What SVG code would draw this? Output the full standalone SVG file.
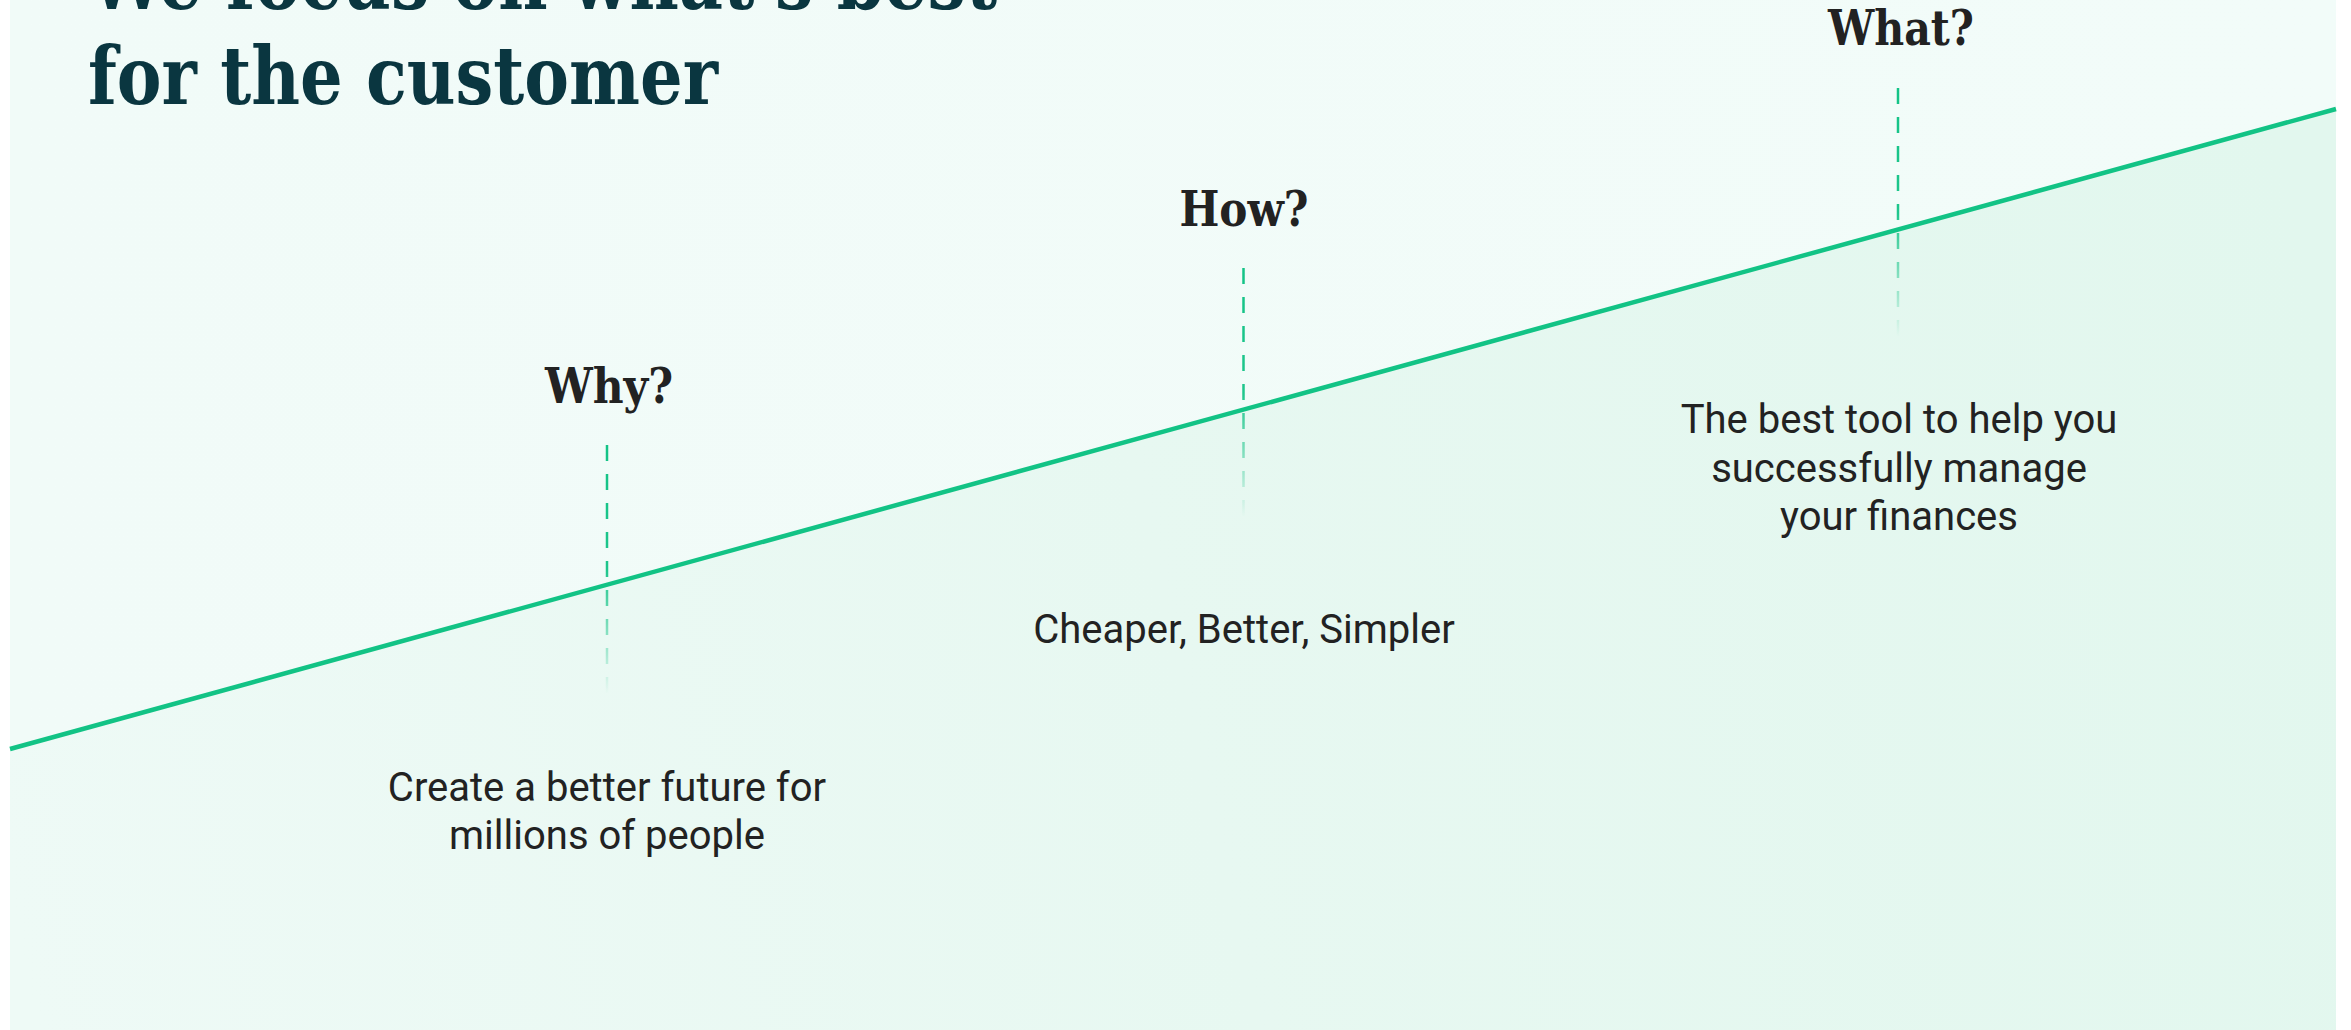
<svg xmlns="http://www.w3.org/2000/svg" width="2351" height="1030" viewBox="0 0 2351 1030">
  <defs>
    <linearGradient id="lowerFill" x1="10" y1="900" x2="2336" y2="400" gradientUnits="userSpaceOnUse">
      <stop offset="0" stop-color="#eefaf6"/>
      <stop offset="0.5" stop-color="#e7f8f1"/>
      <stop offset="1" stop-color="#e2f7ee"/>
    </linearGradient>
    <linearGradient id="upperFill" x1="0" y1="0" x2="1" y2="0">
      <stop offset="0" stop-color="#f1fbf8"/>
      <stop offset="1" stop-color="#f2fcf9"/>
    </linearGradient>
    <linearGradient id="dashFade" x1="0" y1="0" x2="0" y2="249" gradientUnits="userSpaceOnUse">
      <stop offset="0" stop-color="#13c386" stop-opacity="1"/>
      <stop offset="0.5" stop-color="#13c386" stop-opacity="0.95"/>
      <stop offset="1" stop-color="#13c386" stop-opacity="0"/>
    </linearGradient>
    <style>
      .title { font-family: "Roboto Slab", "DejaVu Serif Condensed", "DejaVu Serif", serif; font-weight: bold; font-size: 80px; fill: #0a3640; }
      .label { font-family: "Roboto Slab", "DejaVu Serif Condensed", "DejaVu Serif", serif; font-weight: bold; font-size: 48px; fill: #222222; text-anchor: middle; }
      .body { font-family: Roboto, "Liberation Sans", sans-serif; font-size: 40px; fill: #222222; text-anchor: middle; }
      .guide { stroke: url(#dashFade); stroke-width: 2.5; stroke-dasharray: 16 13; fill: none; }
      .trend { stroke: #12c385; stroke-width: 4.5; fill: none; stroke-linecap: butt; }
    </style>
  </defs>

  <g id="background">
    <rect x="0" y="0" width="2351" height="1030" fill="#ffffff"/>
    <rect x="10" y="0" width="2326" height="1030" fill="url(#upperFill)"/>
    <polygon points="10,749 2336,109 2336,1030 10,1030" fill="url(#lowerFill)"/>
  </g>

  <g id="title">
    <text class="title" x="89" y="9" textLength="908" lengthAdjust="spacingAndGlyphs">We focus on what's best</text>
    <text class="title" x="88" y="104" textLength="630" lengthAdjust="spacingAndGlyphs">for the customer</text>
  </g>

  <g id="connectors">
    <line class="trend" x1="10" y1="749" x2="2336" y2="109"/>
    <line class="guide" x1="0" y1="0" x2="0" y2="249" transform="translate(607,445)"/>
    <line class="guide" x1="0" y1="0" x2="0" y2="249" transform="translate(1243.5,268)"/>
    <line class="guide" x1="0" y1="0" x2="0" y2="249" transform="translate(1898,88)"/>
  </g>

  <g id="why">
    <text class="label" x="609" y="403" textLength="128" lengthAdjust="spacingAndGlyphs">Why?</text>
    <text class="body" x="607" y="801">Create a better future for</text>
    <text class="body" x="607" y="849">millions of people</text>
  </g>

  <g id="how">
    <text class="label" x="1244" y="226" textLength="129" lengthAdjust="spacingAndGlyphs">How?</text>
    <text class="body" x="1244" y="643">Cheaper, Better, Simpler</text>
  </g>

  <g id="what">
    <text class="label" x="1901" y="45" textLength="146" lengthAdjust="spacingAndGlyphs">What?</text>
    <text class="body" x="1899" y="433">The best tool to help you</text>
    <text class="body" x="1899" y="482">successfully manage</text>
    <text class="body" x="1899" y="530">your finances</text>
  </g>
</svg>
